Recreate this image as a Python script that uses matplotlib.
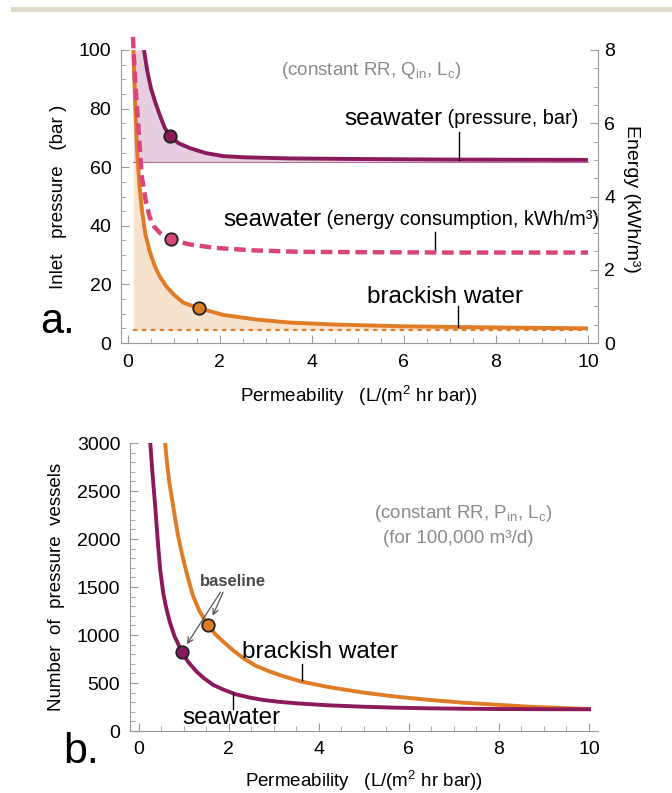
import matplotlib.pyplot as plt
from matplotlib.patches import Rectangle
from matplotlib.ticker import MultipleLocator
import numpy as np

plt.rcParams['font.family'] = ['Liberation Sans', 'DejaVu Sans']
plt.rcParams['mathtext.fontset'] = 'custom'
plt.rcParams['mathtext.rm'] = 'Liberation Sans'
plt.rcParams['mathtext.it'] = 'Liberation Sans:italic'

# ---- panel a data ----
sw_p_x = [0.35, 0.42, 0.5, 0.59, 0.7, 0.8, 0.91, 1.1, 1.35, 1.7, 2.07, 2.5, 3.5, 5, 7, 10]
sw_p_y = [100, 93, 87, 82.4, 77.5, 73.5, 70.6, 68.2, 66.5, 64.8, 63.8, 63.4, 63.0, 62.8, 62.6, 62.5]
sw_p_base = 61.8

sw_e_x = [0.11, 0.15, 0.2, 0.25, 0.3, 0.385, 0.47, 0.57, 0.7, 0.93, 1.3, 1.87, 2.7, 3.74, 5, 7, 10]
sw_e_y = [8.36, 7.3, 6.4, 5.5, 4.55, 3.9, 3.45, 3.18, 3.0, 2.84, 2.7, 2.6, 2.53, 2.49, 2.48, 2.47, 2.47]

bw_p_x = [0.12, 0.16, 0.2, 0.25, 0.3, 0.38, 0.48, 0.59, 0.7, 0.84, 1.0, 1.2, 1.54, 2.07, 2.8, 3.5, 4.5, 6, 8, 10]
bw_p_y = [100, 80, 66, 54, 46, 37, 31, 26, 22.5, 19.2, 16.5, 13.8, 11.9, 9.6, 8.0, 7.0, 6.3, 5.7, 5.3, 5.0]
bw_p_base = 4.6

fill_x0 = 0.12

base_a = {'sw_p': (0.91, 70.6), 'sw_e': (0.93, 2.84), 'bw_p': (1.54, 11.9)}

# ---- panel b data ----
sw_n_x = [0.26, 0.31, 0.37, 0.43, 0.48, 0.55, 0.62, 0.7, 0.8, 0.96, 1.1, 1.29, 1.45, 1.66,
          1.9, 2.14, 2.45, 2.77, 3.1, 3.51, 4.2, 4.99, 5.7, 6.47, 7.2, 7.95, 9, 10]
sw_n_y = [3000, 2680, 2336, 1960, 1680, 1430, 1270, 1125, 985, 826, 720, 618, 550, 479,
          428, 385, 350, 323, 305, 288, 268, 253, 243, 236, 232, 229, 227, 226]

bw_n_x = [0.59, 0.63, 0.68, 0.77, 0.87, 0.97, 1.07, 1.2, 1.35, 1.54, 1.7, 1.88, 2.1, 2.33,
          2.6, 2.92, 3.25, 3.62, 4.25, 5, 5.73, 6.5, 7.21, 8, 8.69, 9.4, 10]
bw_n_y = [3000, 2800, 2600, 2336, 2050, 1830, 1642, 1420, 1250, 1104, 1010, 930, 840, 757,
          680, 618, 565, 514, 455, 400, 357, 322, 295, 272, 253, 240, 229]

base_b = {'sw': (0.96, 826), 'bw': (1.54, 1104)}

c_sw = '#8a1a5b'
c_en = '#d9457b'
c_bw = '#e07c26'
c_spine = '#9a9a9a'
c_note = '#8a8a8a'

fig = plt.figure(figsize=(6.72, 7.93), dpi=100)
fig.add_artist(Rectangle((11 / 672, 1 - 12 / 793), 1, 5 / 793,
                         transform=fig.transFigure, color='#e0d9c8', lw=0))


def style(ax, right=False):
    for s in ['top'] + ([] if right else ['right']):
        ax.spines[s].set_visible(False)
    for s in ax.spines.values():
        s.set_color(c_spine)
    ax.tick_params(which='both', direction='in', color=c_spine, labelsize=14)
    ax.tick_params(which='major', length=6)
    ax.tick_params(which='minor', length=3.5)


# ================= panel a =================
ax = fig.add_axes([121 / 672, 1 - 343 / 793, 477 / 672, 293 / 793])
style(ax)
ax.set_xlim(-0.15, 10.22)
ax.set_ylim(0, 100)
ax.xaxis.set_major_locator(MultipleLocator(2))
ax.xaxis.set_minor_locator(MultipleLocator(0.5))
ax.yaxis.set_major_locator(MultipleLocator(20))
ax.yaxis.set_minor_locator(MultipleLocator(5))
ax.tick_params(axis='x', pad=8)
ax.tick_params(axis='y', pad=7)

# fills
bx = np.array(bw_p_x)
ax.fill_between(bx, bw_p_base, bw_p_y, color='#f7e2cd', lw=0, zorder=1)
sx = np.concatenate([[fill_x0], sw_p_x])
sy = np.concatenate([[100], sw_p_y])
ax.fill_between(sx, sw_p_base, sy, color='#e7cfe1', lw=0, zorder=1)
ax.plot([fill_x0, 10], [sw_p_base, sw_p_base], color=c_sw, lw=0.8, alpha=0.6, zorder=2)
ax.plot([bw_p_x[0], 10], [bw_p_base, bw_p_base], color=c_bw, lw=1.6,
        dashes=(2, 2), zorder=2)

ax.plot(sw_p_x, sw_p_y, color=c_sw, lw=2.8, zorder=3, solid_capstyle='butt')
ax.plot(bw_p_x, bw_p_y, color=c_bw, lw=2.8, zorder=3, solid_capstyle='butt')
ax.plot(*base_a['sw_p'], 'o', ms=9, mfc=c_sw, mec='#222', mew=1.3, zorder=4)
ax.plot(*base_a['bw_p'], 'o', ms=9, mfc=c_bw, mec='#222', mew=1.3, zorder=4)

ax.set_ylabel('Inlet   pressure   (bar )', fontsize=13.5, va='center')
ax.yaxis.set_label_coords(-0.132, 0.5)
ax.set_xlabel(r'Permeability   (L/(m$^{2}$ hr bar))', fontsize=13.5, va='center')
ax.xaxis.set_label_coords(0.499, -0.18)

ax2 = ax.twinx()
style(ax2, right=True)
ax2.spines['left'].set_visible(False)
ax2.spines['bottom'].set_visible(False)
ax2.set_ylim(0, 8)
ax2.yaxis.set_major_locator(MultipleLocator(2))
ax2.yaxis.set_minor_locator(MultipleLocator(0.5))
ax2.tick_params(axis='y', pad=4.5)
ax2.plot(sw_e_x, sw_e_y, color=c_en, lw=3.2, dashes=(2.6, 1.3), clip_on=False, zorder=3)
ax2.plot(*base_a['sw_e'], 'o', ms=9, mfc=c_en, mec='#222', mew=1.3, zorder=4)
ax2.set_ylabel('Energy (kWh/m³)', fontsize=14, rotation=270, va='center')
ax2.yaxis.set_label_coords(1.071, 0.49)

# labels panel a
ax.text(5.3, 93, r'(constant RR, Q$_{\mathrm{in}}$, L$_{\mathrm{c}}$)', fontsize=13.5,
        color=c_note, ha='center', va='center')
t = ax.text(4.7, 76.5, 'seawater', fontsize=17.5, ha='left', va='center')
ax.annotate(' (pressure, bar)', xy=(1, 0.5), xycoords=t, fontsize=14.3,
            ha='left', va='center')
t = ax.text(2.07, 42, 'seawater', fontsize=17.5, ha='left', va='center')
ax.annotate(' (energy consumption, kWh/m³)', xy=(1, 0.5), xycoords=t, fontsize=14.3,
            ha='left', va='center')
ax.text(5.2, 15.7, 'brackish water', fontsize=17.5, ha='left', va='center')
ax.plot([7.2, 7.2], [72, 62.5], color='k', lw=1, zorder=5)
ax.plot([6.67, 6.67], [38, 31.5], color='k', lw=1, zorder=5)
ax.plot([7.17, 7.17], [12.5, 5.6], color='k', lw=1, zorder=5)
fig.text(58 / 672, 1 - 322 / 793, 'a.', fontsize=30, ha='center', va='center')

# ================= panel b =================
bx2 = fig.add_axes([130 / 672, 1 - 731 / 793, 468 / 672, 288 / 793])
style(bx2)
bx2.set_xlim(-0.19, 10.2)
bx2.set_ylim(0, 3000)
bx2.xaxis.set_major_locator(MultipleLocator(2))
bx2.xaxis.set_minor_locator(MultipleLocator(0.5))
bx2.yaxis.set_major_locator(MultipleLocator(500))
bx2.yaxis.set_minor_locator(MultipleLocator(100))
bx2.tick_params(axis='x', pad=7)
bx2.tick_params(axis='y', pad=7)

bx2.plot(bw_n_x, bw_n_y, color=c_bw, lw=2.8, zorder=3)
bx2.plot(sw_n_x, sw_n_y, color=c_sw, lw=2.8, zorder=3)
bx2.plot(*base_b['sw'], 'o', ms=9, mfc=c_sw, mec='#222', mew=1.3, zorder=4)
bx2.plot(*base_b['bw'], 'o', ms=9, mfc=c_bw, mec='#222', mew=1.3, zorder=4)

bx2.text(2.1, 1556, 'baseline', fontsize=12, fontweight='bold', color='#4a4a4a',
         ha='center', va='center')
bx2.annotate('', xy=(1.04, 880), xytext=(1.85, 1470),
             arrowprops=dict(arrowstyle='->', color='#555', lw=0.9))
bx2.annotate('', xy=(1.62, 1175), xytext=(1.9, 1470),
             arrowprops=dict(arrowstyle='->', color='#555', lw=0.9))

bx2.text(7.2, 2270, r'(constant RR, P$_{\mathrm{in}}$, L$_{\mathrm{c}}$)', fontsize=13.5,
         color=c_note, ha='center', va='center')
bx2.text(7.1, 2010, '(for 100,000 m³/d)', fontsize=13.5, color=c_note,
         ha='center', va='center')
bx2.text(2.3, 826, 'brackish water', fontsize=17.5, ha='left', va='center')
bx2.plot([3.62, 3.62], [700, 530], color='k', lw=1, zorder=5)
bx2.text(0.98, 135, 'seawater', fontsize=17.5, ha='left', va='center')
bx2.plot([2.1, 2.1], [400, 230], color='k', lw=1, zorder=5)

bx2.set_ylabel('Number  of  pressure  vessels', fontsize=13.5, va='center')
bx2.yaxis.set_label_coords(-0.158, 0.5)
bx2.set_xlabel(r'Permeability   (L/(m$^{2}$ hr bar))', fontsize=13.5, va='center')
bx2.xaxis.set_label_coords(0.5, -0.172)
fig.text(81 / 672, 1 - 752 / 793, 'b.', fontsize=31, ha='center', va='center')

fig.savefig('out.png', dpi=100)
